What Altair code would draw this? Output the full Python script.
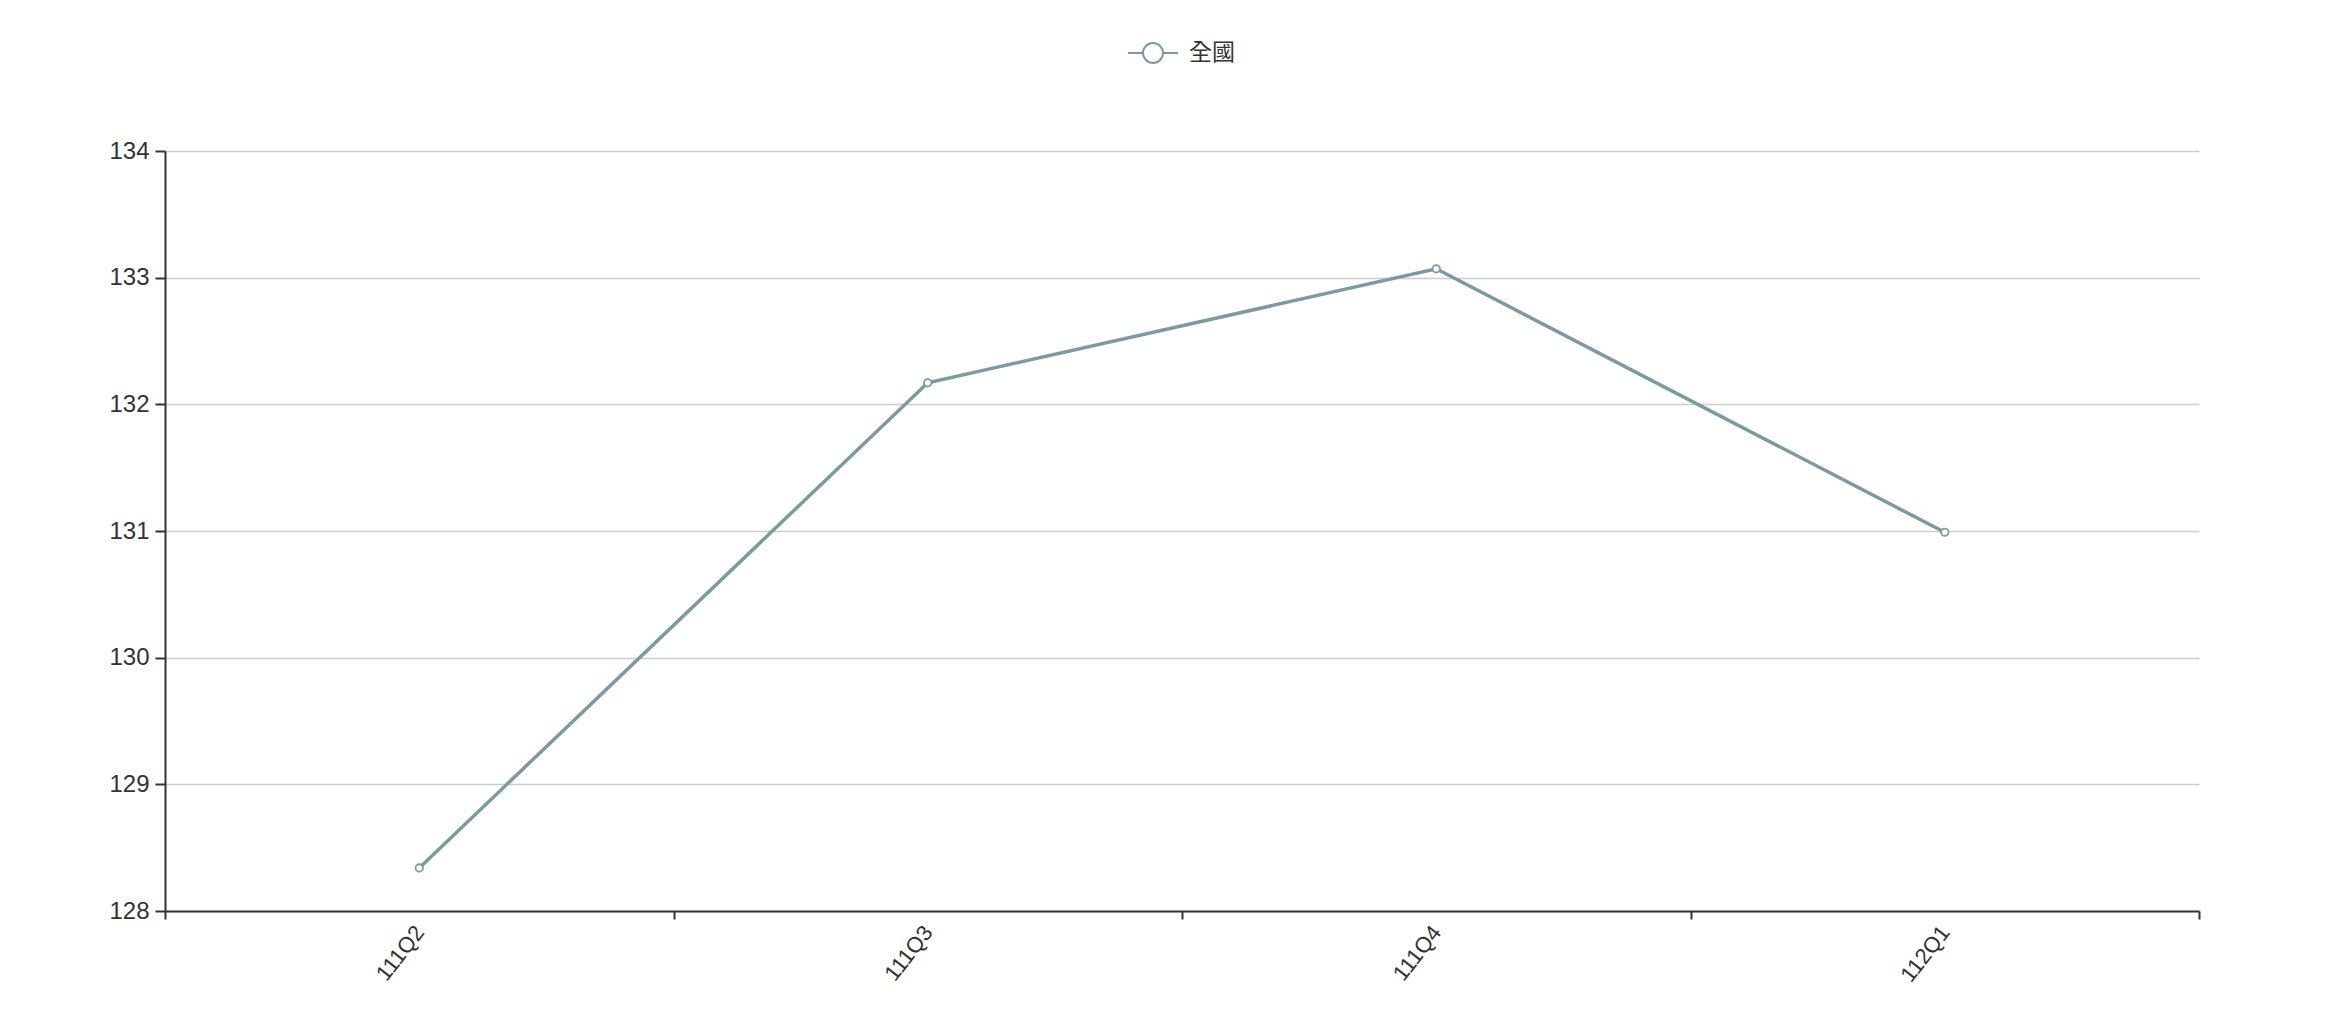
import altair as alt
import pandas as pd

quarters = ["111Q2", "111Q3", "111Q4", "112Q1"]
values = [128.34, 132.17, 133.07, 130.99]
series = ["全國", "全國", "全國", "全國"]
y_ticks = [128, 129, 130, 131, 132, 133, 134]

df = pd.DataFrame({"q": quarters, "v": values, "s": series})

color = "#7b9ba0"
legend_symbol = "M-1,0H-0.4 M0.4,0H1 M-0.4,0A0.4,0.4 0 1,0 0.4,0A0.4,0.4 0 1,0 -0.4,0"

x_enc = alt.X(
    "q:N",
    sort=quarters,
    scale=alt.Scale(type="band", paddingInner=0, paddingOuter=0),
    axis=alt.Axis(
        title=None,
        labelAngle=-52,
        labelAlign="right",
        labelBaseline="middle",
        labelFont="Liberation Sans",
        labelFontSize=22,
        labelColor="#333333",
        labelPadding=9,
        tickBand="extent",
        tickSize=8,
        tickWidth=2,
        tickColor="#333333",
        domainColor="#333333",
        domainWidth=2,
        grid=False,
    ),
)
y_enc = alt.Y(
    "v:Q",
    scale=alt.Scale(domain=[128, 134], nice=False, zero=False),
    axis=alt.Axis(
        title=None,
        values=y_ticks,
        labelFont="Liberation Sans",
        labelFontSize=24,
        labelColor="#333333",
        labelPadding=6,
        tickSize=10,
        tickWidth=2,
        tickColor="#333333",
        domainColor="#333333",
        domainWidth=2,
        grid=True,
        gridColor="#cccccc",
        gridWidth=1.5,
    ),
)

color_enc = alt.Color(
    "s:N",
    scale=alt.Scale(range=[color]),
    legend=alt.Legend(
        title=None,
        orient="none",
        legendX=962,
        legendY=-124,
        symbolType=legend_symbol,
        symbolSize=2500,
        symbolStrokeWidth=2,
        symbolFillColor="white",
        symbolStrokeColor=color,
        labelFont="Noto Sans CJK TC",
        labelFontSize=23,
        labelColor="#333333",
        labelOffset=10,
    ),
)

base = alt.Chart(df).encode(x=x_enc, y=y_enc, color=color_enc)

line = base.mark_line(strokeWidth=3.5)
pts = base.mark_point(shape="circle", filled=False, fill="white", fillOpacity=1, size=55, strokeWidth=1.8, opacity=1)

chart = (
    alt.layer(line, pts)
    .properties(
        width=2034,
        height=760,
        autosize=alt.AutoSizeParams(type="none"),
        padding={"left": 157, "top": 143, "right": 120, "bottom": 100},
    )
    .configure_view(stroke=None)
)

chart.save("out.html", embed_options={"renderer": "svg", "actions": False})
